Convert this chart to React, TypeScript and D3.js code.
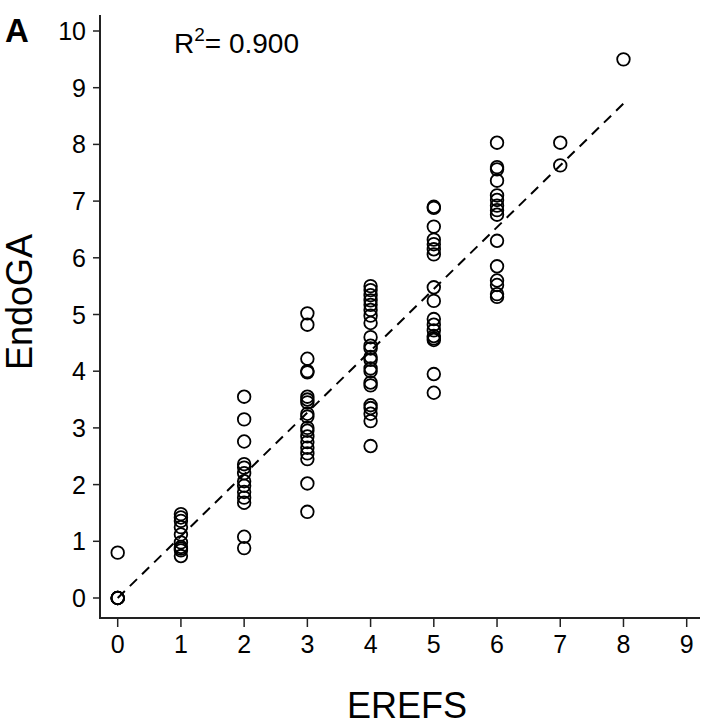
import { useEffect, useRef } from "react";
import * as d3 from "d3";

// EREFS score per column, and EndoGA values
const erefs0 = [0, 0, 0, 0, 0.8];
const erefs1 = [1.48, 1.42, 1.36, 1.25, 1.12, 0.98, 0.9, 0.87, 0.84, 0.74];
const erefs2 = [3.55, 3.15, 2.76, 2.36, 2.3, 2.2, 2.06, 1.98, 1.87, 1.77, 1.68, 1.08, 0.88];
const erefs3 = [5.02, 4.82, 4.22, 4.0, 3.98, 3.55, 3.5, 3.45, 3.25, 3.2, 3.0, 2.95, 2.85, 2.75, 2.65, 2.55, 2.45, 2.02, 1.52];
const erefs4 = [5.5, 5.43, 5.34, 5.25, 5.17, 5.08, 4.98, 4.85, 4.6, 4.45, 4.4, 4.25, 4.2, 4.05, 4.0, 3.8, 3.75, 3.4, 3.35, 3.25, 3.12, 2.68];
const erefs5 = [6.9, 6.88, 6.55, 6.32, 6.24, 6.15, 6.06, 5.48, 5.24, 4.92, 4.82, 4.72, 4.62, 4.58, 4.55, 3.95, 3.62];
const erefs6 = [8.03, 7.6, 7.56, 7.36, 7.1, 7.02, 6.92, 6.84, 6.76, 6.3, 5.85, 5.6, 5.52, 5.36, 5.31];
const erefs7 = [8.03, 7.63];
const erefs8 = [9.5];

const columns = [erefs0, erefs1, erefs2, erefs3, erefs4, erefs5, erefs6, erefs7, erefs8];

// fitted line end points
const fitX = [0, 8];
const fitY = [0, 8.72];

const xTicks = [0, 1, 2, 3, 4, 5, 6, 7, 8, 9];
const yTicks = [0, 1, 2, 3, 4, 5, 6, 7, 8, 9, 10];

const width = 702;
const height = 725;
const font = "Liberation Sans, Arial, sans-serif";

const drawChart = (node: SVGSVGElement) => {
    const svg = d3.select(node);
    svg.selectAll("*").remove();

    const x = d3.scaleLinear().domain([0, 9]).range([117.7, 686.7]);
    const y = d3.scaleLinear().domain([0, 10]).range([598, 31]);

    const axisX = 100;
    const axisY = 618;

    // axes lines
    svg.append("line")
        .attr("x1", axisX).attr("x2", axisX)
        .attr("y1", 15).attr("y2", axisY)
        .attr("stroke", "#222").attr("stroke-width", 2);
    svg.append("line")
        .attr("x1", axisX - 1).attr("x2", 700)
        .attr("y1", axisY).attr("y2", axisY)
        .attr("stroke", "#222").attr("stroke-width", 2);

    // y ticks
    const gy = svg.append("g");
    gy.selectAll("line")
        .data(yTicks)
        .join("line")
        .attr("x1", axisX - 7).attr("x2", axisX)
        .attr("y1", d => y(d)).attr("y2", d => y(d))
        .attr("stroke", "#222").attr("stroke-width", 1.5);
    gy.selectAll("text")
        .data(yTicks)
        .join("text")
        .attr("x", axisX - 14)
        .attr("y", d => y(d))
        .attr("dy", "0.36em")
        .attr("text-anchor", "end")
        .attr("font-family", font)
        .attr("font-size", 25)
        .text(d => d);

    // x ticks
    const gx = svg.append("g");
    gx.selectAll("line")
        .data(xTicks)
        .join("line")
        .attr("x1", d => x(d)).attr("x2", d => x(d))
        .attr("y1", axisY).attr("y2", axisY + 9)
        .attr("stroke", "#222").attr("stroke-width", 1.5);
    gx.selectAll("text")
        .data(xTicks)
        .join("text")
        .attr("x", d => x(d))
        .attr("y", 653)
        .attr("text-anchor", "middle")
        .attr("font-family", font)
        .attr("font-size", 25)
        .text(d => d);

    // regression line
    const line = d3.line<number>()
        .x((d, i) => x(fitX[i]))
        .y(d => y(d));
    svg.append("path")
        .attr("d", line(fitY))
        .attr("fill", "none")
        .attr("stroke", "#000")
        .attr("stroke-width", 2)
        .attr("stroke-dasharray", "10,7");

    // points
    const points = columns.flatMap((vals, i) => vals.map(v => ({ e: i, v })));
    svg.append("g")
        .selectAll("circle")
        .data(points)
        .join("circle")
        .attr("cx", d => x(d.e))
        .attr("cy", d => y(d.v))
        .attr("r", 6.3)
        .attr("fill", "none")
        .attr("stroke", "#000")
        .attr("stroke-width", 1.8);

    // labels
    svg.append("text")
        .attr("x", 5).attr("y", 42)
        .attr("font-family", font)
        .attr("font-size", 33)
        .attr("font-weight", "bold")
        .text("A");

    const r2 = svg.append("text")
        .attr("x", 174).attr("y", 53)
        .attr("font-family", font)
        .attr("font-size", 28);
    r2.append("tspan").text("R");
    r2.append("tspan").attr("font-size", 19).attr("dy", -12).text("2");
    r2.append("tspan").attr("dy", 12).text("= 0.900");

    svg.append("text")
        .attr("transform", `translate(32,302) rotate(-90)`)
        .attr("text-anchor", "middle")
        .attr("font-family", font)
        .attr("font-size", 36)
        .text("EndoGA");

    svg.append("text")
        .attr("x", 407).attr("y", 718)
        .attr("text-anchor", "middle")
        .attr("font-family", font)
        .attr("font-size", 36)
        .text("EREFS");
};

export default function App() {
    const ref = useRef<SVGSVGElement>(null);

    useEffect(() => {
        if (ref.current) drawChart(ref.current);
    }, []);

    return (
        <svg
            ref={ref}
            width={width}
            height={height}
            style={{ position: "absolute", top: 0, left: 0, background: "#fff" }}
        />
    );
}
